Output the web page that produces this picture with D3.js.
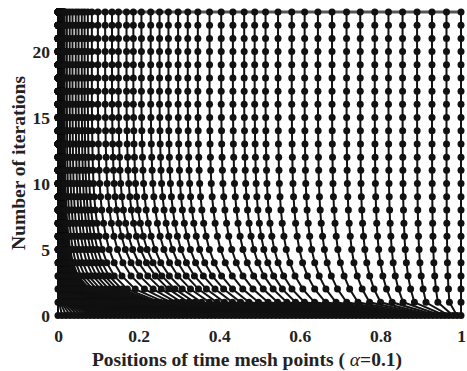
<!DOCTYPE html>
<html>
<head>
<meta charset="utf-8">
<script src="https://cdn.jsdelivr.net/npm/d3@7"></script>
<style>
  body { margin: 0; background: #fff; }
  text { font-family: "Liberation Serif", "Times New Roman", serif; font-weight: bold; fill: #222; }
</style>
</head>
<body>
<div id="chart"></div>
<script>
// final (converged) mesh: dense cluster at 0, thin strip, then spread points
const finalCluster = [0, 0.00001, 0.00002, 0.00004, 0.00007, 0.0001, 0.00014, 0.00019, 0.00025, 0.00032,
  0.0004, 0.00049, 0.00059, 0.0007, 0.00082, 0.00095, 0.0011, 0.0012, 0.0014, 0.0016,
  0.0017, 0.0019, 0.0021, 0.0023, 0.0026, 0.0028, 0.003, 0.0033, 0.0035, 0.0038,
  0.0041, 0.0044, 0.0047, 0.005, 0.0053, 0.0056, 0.006, 0.0063, 0.0067, 0.007,
  0.0074, 0.0078, 0.0082, 0.0086, 0.009, 0.0094, 0.0098, 0.0102, 0.0106, 0.011,
  0.0114, 0.0118, 0.0122, 0.0127, 0.0132, 0.0138, 0.0145, 0.0153, 0.0163];
const finalThin = [0.022, 0.029, 0.036, 0.044, 0.051, 0.059, 0.066, 0.074, 0.084];
const finalOuter = [0.099, 0.117, 0.134, 0.150, 0.170, 0.187, 0.207, 0.230, 0.252, 0.274,
  0.298, 0.322, 0.347, 0.376, 0.405, 0.434, 0.462, 0.488, 0.515, 0.546,
  0.580, 0.612, 0.645, 0.680, 0.716, 0.750, 0.786, 0.820, 0.855, 0.891,
  0.928, 0.964, 1.0];

// remaining share of the distance to the final mesh at each iteration (0..23)
const lagOuter = [1, 0.28, 0.19, 0.13, 0.09, 0.063, 0.045, 0.032, 0.022, 0.015, 0.01, 0.007,
  0.005, 0.003, 0.002, 0.001, 0, 0, 0, 0, 0, 0, 0, 0];
const lagInner = [1, 0.3, 0.1, 0.05, 0.03, 0.02, 0.013, 0.009, 0.006, 0.004, 0.003, 0.002,
  0.0013, 0.0008, 0.0005, 0.0003, 0, 0, 0, 0, 0, 0, 0, 0];

const iterations = d3.range(lagOuter.length);
const xTicks = [0, 0.2, 0.4, 0.6, 0.8, 1];
const yTicks = [0, 5, 10, 15, 20];

const width = 467, height = 371;
const x = d3.scaleLinear().domain([0, 1]).range([58, 461]);
const y = d3.scaleLinear().domain([0, 23]).range([315.5, 12]);

const finalMesh = [...finalCluster, ...finalThin, ...finalOuter];
const N = finalMesh.length - 1;

// each mesh point starts on the uniform mesh and moves toward its final place
const paths = finalMesh.map((f, i) => {
  const u = i / N;
  const w = Math.min(1, f / 0.15);
  return iterations.map(k => {
    const lag = lagInner[k] + (lagOuter[k] - lagInner[k]) * w;
    return { k: k, pos: f + (u - f) * lag };
  });
});

const svg = d3.select('#chart').append('svg')
  .attr('width', width)
  .attr('height', height);

const line = d3.line().x(d => x(d.pos)).y(d => y(d.k));

svg.append('g').selectAll('path')
  .data(paths)
  .enter()
  .append('path')
  .attr('d', line)
  .attr('fill', 'none')
  .attr('stroke', '#111')
  .attr('stroke-width', 2);

// last mesh drawn as a grey bar
svg.append('line')
  .attr('x1', x(0)).attr('x2', x(1))
  .attr('y1', y(23)).attr('y2', y(23))
  .attr('stroke', '#555')
  .attr('stroke-width', 3);

svg.append('g').selectAll('g')
  .data(paths)
  .enter()
  .append('g')
  .selectAll('circle')
  .data(d => d)
  .enter()
  .append('circle')
  .attr('cx', d => x(d.pos))
  .attr('cy', d => y(d.k))
  .attr('r', 3.5)
  .attr('fill', '#111');

// axes
const xAxis = svg.append('g')
  .attr('transform', `translate(0,${y(0)})`)
  .call(d3.axisBottom(x).tickValues(xTicks).tickFormat(d3.format('~g')).tickSize(0).tickPadding(14));
xAxis.select('.domain').remove();
xAxis.selectAll('text').style('font-size', '17.5px').attr('fill', '#222')
  .style('font-family', '"Liberation Serif", serif').style('font-weight', 'bold');

const yAxis = svg.append('g')
  .attr('transform', `translate(${x(0)},0)`)
  .call(d3.axisLeft(y).tickValues(yTicks).tickSize(0).tickPadding(8));
yAxis.select('.domain').remove();
yAxis.selectAll('text').style('font-size', '17.5px').attr('fill', '#222')
  .style('font-family', '"Liberation Serif", serif').style('font-weight', 'bold');

const xTitle = svg.append('text')
  .attr('x', 247)
  .attr('y', 366)
  .attr('text-anchor', 'middle')
  .style('font-size', '19.5px');
xTitle.append('tspan').text('Positions of time mesh points ( ');
xTitle.append('tspan').style('font-style', 'italic').style('font-weight', 'normal').text('α');
xTitle.append('tspan').text('=0.1)');

svg.append('text')
  .attr('transform', 'translate(25,163) rotate(-90)')
  .attr('text-anchor', 'middle')
  .style('font-size', '19.5px')
  .text('Number of iterations');
</script>
</body>
</html>
